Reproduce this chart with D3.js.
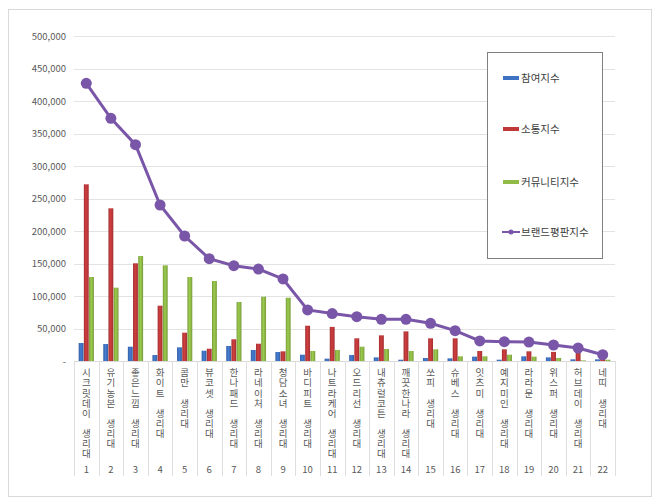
<!DOCTYPE html>
<html>
<head>
<meta charset="utf-8">
<script src="https://cdn.jsdelivr.net/npm/d3@7"></script>
<style>
  body { margin: 0; background: #fff; }
  svg { display: block; font-family: "Noto Sans CJK KR", "Noto Sans", sans-serif; }
  .stacked { writing-mode: vertical-rl; text-orientation: upright; }
</style>
</head>
<body>
<svg id="chart" width="660" height="503"></svg>
<script>
// brand names (x categories), ranked 1..22
const brands = ['시크릿데이 생리대', '유기농본 생리대', '좋은느낌 생리대', '화이트 생리대', '콤만 생리대',
  '뷰코셋 생리대', '한나패드 생리대', '라네이처 생리대', '청담소녀 생리대', '바디피트 생리대',
  '나트라케어 생리대', '오드리선 생리대', '내츄럴코튼 생리대', '깨끗한나라 생리대', '쏘피 생리대',
  '슈베스 생리대', '잇츠미 생리대', '예지미인 생리대', '라라문 생리대', '위스퍼 생리대',
  '허브데이 생리대', '네띠 생리대'];

const seriesNames = ['참여지수', '소통지수', '커뮤니티지수'];
const lineName = '브랜드평판지수';

// values
const participation = [27700, 26100, 22000, 9200, 21000, 15800, 23100, 16900, 13800, 9700, 3600,
  9200, 5600, 2000, 4600, 4100, 6700, 2000, 7200, 5600, 2600, 2600];
const communication = [271800, 234900, 150300, 85100, 43600, 18900, 33400, 26600, 14900, 54300, 52500,
  34900, 39500, 45600, 34900, 34900, 15400, 18000, 14900, 14000, 16400, 5000];
const community = [129200, 112800, 161500, 147200, 129200, 123100, 90800, 98900, 97400, 15400, 16900,
  22000, 18500, 15400, 18000, 7200, 7200, 9700, 6700, 4600, 1000, 2000];
const reputation = [427200, 373400, 332800, 240000, 192300, 157400, 146600, 141500, 126200, 78500, 73000,
  68200, 64100, 64100, 58000, 46700, 30800, 29700, 29200, 24600, 20000, 9700];

const yTicks = [0, 50000, 100000, 150000, 200000, 250000, 300000, 350000, 400000, 450000, 500000];

const colors = ['#3f72c2', '#c0393a', '#8fbb46'];
const lineColor = '#7a56a8';

const svg = d3.select('#chart');
const plotLeft = 74, plotRight = 615, plotTop = 36, plotBottom = 361;

// outer chart frame
svg.append('rect')
  .attr('x', 8.5).attr('y', 9.5).attr('width', 643).attr('height', 487)
  .attr('fill', '#fff').attr('stroke', '#d9d9d9');

// bar gradients, darker at the edges like the Excel look
const defs = svg.append('defs');
colors.forEach((c, i) => {
  const g = defs.append('linearGradient').attr('id', 'grad' + i)
    .attr('x1', '0%').attr('x2', '100%').attr('y1', '0%').attr('y2', '0%');
  const dark = d3.color(c).darker(0.5);
  const light = d3.color(c).brighter(0.25);
  g.append('stop').attr('offset', '0%').attr('stop-color', dark);
  g.append('stop').attr('offset', '45%').attr('stop-color', light);
  g.append('stop').attr('offset', '100%').attr('stop-color', dark);
});

const x = d3.scaleBand().domain(d3.range(brands.length)).range([plotLeft, plotRight]).padding(0);
const bw = x.bandwidth();
const xSub = d3.scaleBand().domain(d3.range(3)).range([bw * 0.19, bw * 0.81]).paddingInner(0.06);
const y = d3.scaleLinear().domain([0, 500000]).range([plotBottom, plotTop]);

// gridlines
svg.append('g')
  .selectAll('line')
  .data(yTicks.slice(1))
  .join('line')
  .attr('x1', plotLeft).attr('x2', plotRight)
  .attr('y1', d => Math.round(y(d)) + 0.5).attr('y2', d => Math.round(y(d)) + 0.5)
  .attr('stroke', '#e3e3e3');

// y labels
svg.append('g')
  .selectAll('text')
  .data(yTicks)
  .join('text')
  .attr('x', 66)
  .attr('y', d => y(d) + 3.5)
  .attr('text-anchor', 'end')
  .attr('font-size', '9.5px')
  .attr('fill', '#595959')
  .text(d => d === 0 ? '-' : d3.format(',')(d));

// bars
const seriesData = [participation, communication, community];
const barG = svg.append('g');
seriesData.forEach((vals, s) => {
  barG.append('g')
    .selectAll('rect')
    .data(vals)
    .join('rect')
    .attr('x', (d, i) => x(i) + xSub(s))
    .attr('width', xSub.bandwidth())
    .attr('y', d => y(d))
    .attr('height', d => plotBottom - y(d))
    .attr('fill', `url(#grad${s})`);
});

// category axis: baseline + separators
svg.append('line')
  .attr('x1', plotLeft).attr('x2', plotRight)
  .attr('y1', plotBottom + 0.5).attr('y2', plotBottom + 0.5)
  .attr('stroke', '#d9d9d9');
svg.append('g')
  .selectAll('line')
  .data(d3.range(brands.length + 1))
  .join('line')
  .attr('x1', i => Math.round(i < brands.length ? x(i) : plotRight) + 0.5)
  .attr('x2', i => Math.round(i < brands.length ? x(i) : plotRight) + 0.5)
  .attr('y1', plotBottom).attr('y2', 476)
  .attr('stroke', '#dedede');

// stacked (vertical, upright) category labels
const labG = svg.append('g').attr('fill', '#595959');
labG.selectAll('text.stacked')
  .data(brands)
  .join('text')
  .attr('class', 'stacked')
  .attr('x', (d, i) => x(i) + bw / 2)
  .attr('y', 368)
  .attr('font-size', '9.5px')
  .attr('letter-spacing', '0.6px')
  .text(d => d.replace(' ', '\u3000'));
labG.selectAll('text.rank')
  .data(brands)
  .join('text')
  .attr('class', 'rank')
  .attr('x', (d, i) => x(i) + bw / 2)
  .attr('y', 473)
  .attr('text-anchor', 'middle')
  .attr('font-size', '9.5px')
  .text((d, i) => i + 1);

// brand reputation line
const line = d3.line().x((d, i) => x(i) + bw / 2).y(d => y(d));
svg.append('path')
  .datum(reputation)
  .attr('d', line)
  .attr('fill', 'none')
  .attr('stroke', lineColor)
  .attr('stroke-width', 3);
svg.append('g')
  .selectAll('circle')
  .data(reputation)
  .join('circle')
  .attr('cx', (d, i) => x(i) + bw / 2)
  .attr('cy', d => y(d))
  .attr('r', 5.5)
  .attr('fill', lineColor);

// legend
const leg = svg.append('g');
leg.append('rect')
  .attr('x', 487.5).attr('y', 52.5).attr('width', 115).attr('height', 206)
  .attr('fill', '#fff').attr('stroke', '#808080');
const legY = [78, 129, 182, 232];
seriesNames.forEach((n, i) => {
  leg.append('rect')
    .attr('x', 503).attr('y', legY[i] - 2).attr('width', 16).attr('height', 4)
    .attr('fill', colors[i]);
  leg.append('text')
    .attr('x', 521).attr('y', legY[i] + 4)
    .attr('font-size', '10.5px').attr('fill', '#404040')
    .text(n);
});
leg.append('line')
  .attr('x1', 502).attr('x2', 520).attr('y1', legY[3]).attr('y2', legY[3])
  .attr('stroke', lineColor).attr('stroke-width', 2);
leg.append('circle')
  .attr('cx', 511).attr('cy', legY[3]).attr('r', 2.5).attr('fill', lineColor);
leg.append('text')
  .attr('x', 521).attr('y', legY[3] + 4)
  .attr('font-size', '10.5px').attr('fill', '#404040')
  .text(lineName);
</script>
</body>
</html>
